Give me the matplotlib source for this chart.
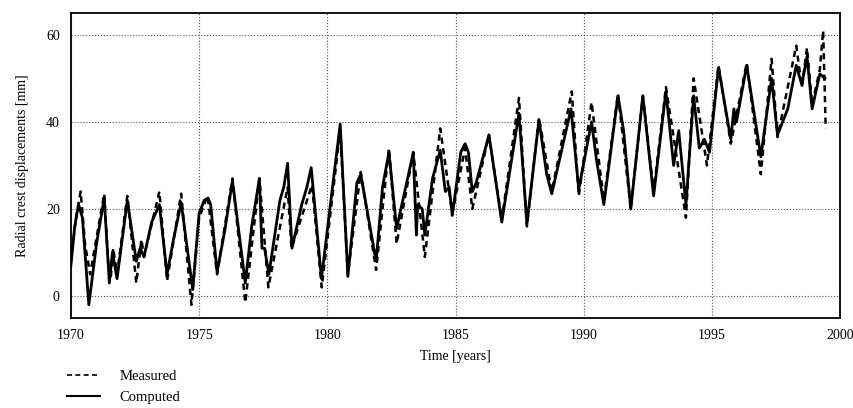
import matplotlib
matplotlib.use("Agg")
import matplotlib.pyplot as plt
from matplotlib.lines import Line2D

plt.rcParams['font.family'] = ['Liberation Serif', 'DejaVu Serif']

# Computed (solid)
t_computed = [1970.00, 1970.15, 1970.30, 1970.45, 1970.70, 1971.00, 1971.30, 1971.50, 1971.62,
              1971.80, 1972.00, 1972.20, 1972.55, 1972.70, 1972.85, 1973.15, 1973.45, 1973.75,
              1974.00, 1974.30, 1974.75, 1975.00, 1975.20, 1975.35, 1975.45, 1975.70, 1976.00,
              1976.30, 1976.80, 1977.05, 1977.35, 1977.45, 1977.55, 1977.72, 1978.15, 1978.30,
              1978.45, 1978.62, 1979.00, 1979.20, 1979.37, 1979.77, 1980.20, 1980.50, 1980.80,
              1981.15, 1981.30, 1981.60, 1981.90, 1982.15, 1982.40, 1982.70, 1983.35, 1983.47,
              1983.52, 1983.70, 1983.80, 1984.10, 1984.40, 1984.60, 1984.75, 1984.87, 1985.20,
              1985.37, 1985.50, 1985.65, 1985.80, 1986.30, 1986.80, 1987.47, 1987.78, 1988.25,
              1988.55, 1988.75, 1989.50, 1989.80, 1990.30, 1990.50, 1990.78, 1991.33, 1991.55,
              1991.83, 1992.30, 1992.72, 1993.20, 1993.50, 1993.70, 1993.98, 1994.28, 1994.50,
              1994.70, 1994.90, 1995.25, 1995.73, 1995.85, 1995.95, 1996.35, 1996.90, 1997.32,
              1997.55, 1997.95, 1998.28, 1998.50, 1998.70, 1998.90, 1999.20, 1999.40]
v_computed = [7, 16, 21, 18, -2, 12, 22.5, 3, 10,
              4, 13, 22, 8, 11, 9, 17, 21, 5,
              13, 21.5, 1.5, 19, 22, 22.5, 21, 5.5, 15,
              26.5, 3, 16, 27, 11, 11, 5, 22, 25,
              30.5, 11, 21, 25, 29.5, 4, 25, 39.5, 4.5,
              26, 28, 18, 8, 25, 33, 15.5, 33, 14,
              21, 20, 14, 27, 33.5, 24, 25, 18.5, 33,
              35, 33, 24, 26, 37, 17, 42, 16.5, 40.5,
              28, 23.5, 43, 24.5, 40, 31, 21, 46, 38,
              20, 46, 23, 47, 30, 38, 21, 46, 34,
              36, 33, 52.5, 36, 43, 40, 53, 32, 50,
              37, 43, 53, 48.5, 55, 43, 51, 50]

# Measured (dashed)
t_measured = [1970.00, 1970.20, 1970.38, 1970.55, 1970.75, 1971.30, 1971.45, 1971.55, 1971.65,
              1971.80, 1972.20, 1972.55, 1972.75, 1972.85, 1973.45, 1973.75, 1974.30, 1974.70,
              1975.00, 1975.33, 1975.70, 1976.30, 1976.80, 1977.35, 1977.70, 1978.45, 1978.60,
              1979.40, 1979.78, 1980.50, 1980.80, 1981.30, 1981.90, 1982.40, 1982.70, 1983.35,
              1983.80, 1984.40, 1984.87, 1985.37, 1985.65, 1986.30, 1986.80, 1987.47, 1987.78,
              1988.25, 1988.75, 1989.53, 1989.80, 1990.30, 1990.78, 1991.33, 1991.83, 1992.30,
              1992.72, 1993.20, 1993.98, 1994.28, 1994.80, 1995.25, 1995.73, 1996.35, 1996.90,
              1997.32, 1997.55, 1998.28, 1998.50, 1998.70, 1998.90, 1999.20, 1999.33, 1999.43]
v_measured = [8, 18, 24, 12, 5, 23.5, 8, 4, 11,
              5, 23, 3, 13, 9, 24, 3.5, 23.5, -2,
              18, 23, 5, 27, -1.5, 27, 2, 25, 11,
              25.5, 2, 38, 5, 28.5, 6, 34, 12, 33,
              9, 38.5, 19, 34, 20, 37, 17.5, 45.5, 16,
              41, 24, 47, 23, 44.5, 22, 46.5, 20, 46,
              24, 48, 18, 50, 30, 53, 35, 53.5, 28,
              54.5, 36.5, 57.5, 48, 57, 44, 52, 61, 38.5]

x_ticks = [1970, 1975, 1980, 1985, 1990, 1995, 2000]
y_ticks = [0, 20, 40, 60]


def plot_displacements():
    fig = plt.figure(figsize=(8.54, 4.08), dpi=100)
    ax = fig.add_axes([0.083, 0.221, 0.901, 0.747])

    ax.plot(t_measured, v_measured, color='black', linestyle=(0, (2.5, 1.8)), linewidth=1.8)
    ax.plot(t_computed, v_computed, color='black', linestyle='-', linewidth=2.0)

    ax.set_xlim(1970, 2000)
    ax.set_ylim(-5, 65)
    ax.set_xticks(x_ticks)
    ax.set_yticks(y_ticks)
    ax.tick_params(length=0, labelsize=10, pad=8)
    ax.grid(True, linestyle=':', color='#555555', linewidth=0.8)
    for s in ax.spines.values():
        s.set_linewidth(1.3)

    ax.set_xlabel("Time [years]", fontsize=10, labelpad=6)
    ax.set_ylabel("Radial crest displacements [mm]", fontsize=10, labelpad=12)

    handles = [Line2D([], [], color='black', linestyle=(0, (3, 2)), linewidth=1.2),
               Line2D([], [], color='black', linestyle='-', linewidth=1.5)]
    fig.legend(handles, ['Measured', 'Computed'], loc='upper left',
               bbox_to_anchor=(0.078, 0.094), frameon=False, fontsize=10.5,
               handlelength=2.3, handletextpad=1.3, labelspacing=0.55,
               borderpad=0, borderaxespad=0)

    fig.savefig("out.png", dpi=100)


if __name__ == "__main__":
    plot_displacements()
